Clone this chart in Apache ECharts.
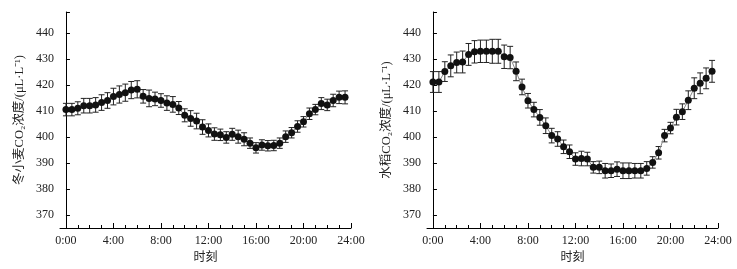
<!DOCTYPE html>
<html>
<head>
<meta charset="utf-8">
<script src="https://cdn.jsdelivr.net/npm/echarts@6/dist/echarts.min.js"></script>
<style>
  html, body { margin: 0; padding: 0; background: #fff; }
  #chart { width: 737px; height: 269px; }
</style>
</head>
<body>
<div id="chart"></div>
<script>
// 时刻 (h)
const hours = [0, 0.5, 1, 1.5, 2, 2.5, 3, 3.5, 4, 4.5, 5, 5.5, 6, 6.5, 7, 7.5,
  8, 8.5, 9, 9.5, 10, 10.5, 11, 11.5, 12, 12.5, 13, 13.5, 14, 14.5, 15, 15.5,
  16, 16.5, 17, 17.5, 18, 18.5, 19, 19.5, 20, 20.5, 21, 21.5, 22, 22.5, 23, 23.5]
const xLabels = [0, 4, 8, 12, 16, 20, 24]
const xMinor = [0, 1, 2, 3, 4, 5, 6, 7, 8, 9, 10, 11, 12, 13, 14, 15, 16, 17, 18, 19, 20, 21, 22, 23, 24]
const yLabels = [370, 380, 390, 400, 410, 420, 430, 440]

// 冬小麦
const wheat = [410.5, 410.5, 411, 412, 412, 412.3, 413.2, 414, 415.5, 416.3, 417, 418, 418.3, 415.6, 414.8, 414.6,
  414, 413, 412.5, 411.1, 408.3, 407.1, 406.1, 403.8, 402.5, 401.1, 400.8, 399.8, 401, 400.1, 399.1, 397.6,
  395.8, 396.9, 396.6, 396.7, 397.6, 400.1, 401.6, 404, 405.8, 408.9, 410.5, 412.8, 412.3, 414, 415.2, 415.2]
const wheatErr = [2.4, 2.4, 2.5, 2.8, 2.8, 2.8, 3.0, 3.0, 3.2, 3.3, 3.3, 3.3, 3.3, 2.6, 3.2, 2.6,
  2.6, 2.8, 3.0, 2.5, 2.5, 3.0, 3.0, 2.8, 2.5, 2.4, 2.2, 2.2, 2.3, 2.5, 2.5, 2.0,
  2.0, 2.0, 2.0, 2.0, 2.0, 2.2, 2.0, 2.2, 2.0, 2.2, 2.0, 2.3, 2.2, 2.4, 2.4, 2.5]

// 水稻
const rice = [421.1, 421.1, 425.1, 427.3, 428.6, 428.8, 431.7, 432.7, 432.9, 432.9, 432.9, 432.9, 430.8, 430.5, 425.2, 419.2,
  413.9, 410.5, 407.5, 404.3, 400.5, 399.2, 396.2, 394.3, 391.5, 391.7, 391.5, 388.3, 388.3, 387, 387, 387.6,
  387, 387, 387, 387, 387.9, 390.2, 393.9, 400.5, 403.4, 407.6, 409.7, 414.1, 418.7, 420.6, 422.5, 425.2]
const riceErr = [4.0, 4.0, 3.8, 4.2, 4.0, 4.2, 4.2, 4.3, 4.3, 4.3, 4.6, 4.6, 4.5, 4.3, 3.6, 3.0,
  2.8, 2.8, 3.0, 3.0, 2.8, 2.8, 2.6, 2.6, 2.4, 2.8, 2.6, 2.2, 2.4, 2.8, 2.6, 2.8,
  3.0, 3.0, 2.8, 2.8, 2.6, 2.2, 2.4, 2.4, 2.2, 3.0, 3.0, 3.6, 4.0, 4.0, 4.0, 4.2]

const FONT = '"Liberation Serif", "Noto Sans CJK SC", serif'
const TEXT = '#222'

const panels = [
  { name: '冬小麦CO₂浓度/(μL·L⁻¹)', values: wheat, errors: wheatErr, left: 60 },
  { name: '水稻CO₂浓度/(μL·L⁻¹)', values: rice, errors: riceErr, left: 427 }
]

function errorBar(params, api) {
  const x = api.value(0)
  const top = api.coord([x, api.value(2)])
  const bot = api.coord([x, api.value(1)])
  const w = 3
  const style = { stroke: '#222', lineWidth: 1 }
  return {
    type: 'group',
    children: [
      { type: 'line', shape: { x1: top[0], y1: top[1], x2: bot[0], y2: bot[1] }, style },
      { type: 'line', shape: { x1: top[0] - w, y1: top[1], x2: top[0] + w, y2: top[1] }, style },
      { type: 'line', shape: { x1: bot[0] - w, y1: bot[1], x2: bot[0] + w, y2: bot[1] }, style }
    ]
  }
}

const option = {
  animation: false,
  grid: [], xAxis: [], yAxis: [], series: []
}

panels.forEach((p, i) => {
  option.grid.push({ left: p.left, top: 12, width: 291, height: 216 })

  // 主刻度 + 标签
  option.xAxis.push({
    type: 'value', gridIndex: i, min: -0.5, max: 24,
    name: '时刻', nameLocation: 'middle', nameGap: 23,
    nameTextStyle: { fontFamily: FONT, fontSize: 12, color: TEXT },
    axisLine: { lineStyle: { color: '#000', width: 1 } },
    axisTick: { inside: true, length: 5, customValues: xLabels, lineStyle: { color: '#000' } },
    axisLabel: {
      customValues: xLabels, margin: 7,
      fontFamily: FONT, fontSize: 12, color: TEXT,
      formatter: v => v + ':00'
    },
    splitLine: { show: false }
  })
  // 次刻度
  option.xAxis.push({
    type: 'value', gridIndex: i, min: -0.5, max: 24, position: 'bottom',
    axisLine: { show: false },
    axisTick: { inside: true, length: 3, customValues: xMinor, lineStyle: { color: '#000' } },
    axisLabel: { show: false },
    splitLine: { show: false }
  })

  option.yAxis.push({
    type: 'value', gridIndex: i, min: 365, max: 448,
    name: p.name, nameLocation: 'middle', nameGap: 34,
    nameTextStyle: { fontFamily: FONT, fontSize: 12.5, color: TEXT },
    axisLine: { show: true, lineStyle: { color: '#000', width: 1 } },
    axisTick: { inside: true, length: 4, customValues: yLabels.concat([448]), lineStyle: { color: '#000' } },
    axisLabel: { customValues: yLabels, margin: 6, fontFamily: FONT, fontSize: 12, color: TEXT },
    splitLine: { show: false }
  })

  option.series.push({
    type: 'custom',
    xAxisIndex: i * 2, yAxisIndex: i,
    renderItem: errorBar,
    z: 1,
    data: hours.map((h, k) => [h, p.values[k] - p.errors[k], p.values[k] + p.errors[k]])
  })
  option.series.push({
    type: 'line',
    xAxisIndex: i * 2, yAxisIndex: i,
    z: 3,
    symbol: 'circle', symbolSize: 7,
    itemStyle: { color: '#111' },
    lineStyle: { color: '#888', width: 1 },
    data: hours.map((h, k) => [h, p.values[k]])
  })
})

const chart = echarts.init(document.getElementById('chart'))
chart.setOption(option)
</script>
</body>
</html>
